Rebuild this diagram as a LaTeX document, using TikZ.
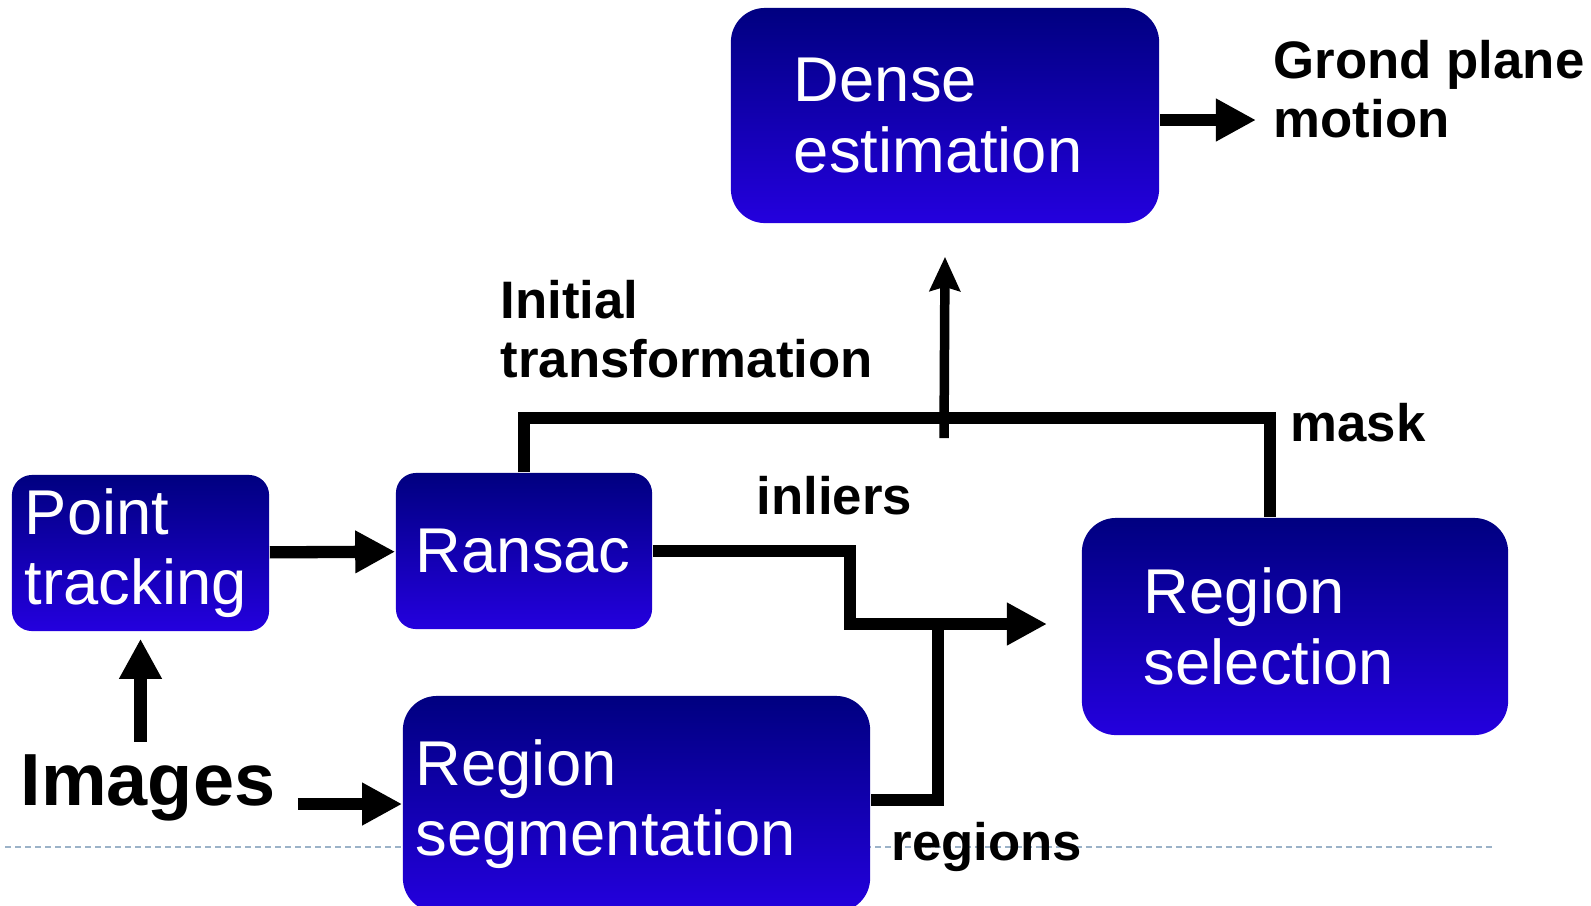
\documentclass[tikz,border=0pt]{standalone}
\usepackage{fontspec}
\setmainfont{Liberation Sans}
\usetikzlibrary{arrows.meta, positioning}
\definecolor{boxtop}{RGB}{0, 0, 128}
\definecolor{boxbot}{RGB}{36, 0, 222}
\definecolor{sepline}{RGB}{155, 178, 200}

\begin{document}
\begin{tikzpicture}[
    x=0.01cm, y=-0.01cm,
    block/.style={rounded corners=0.34cm, top color=boxtop, bottom color=boxbot, text=white, align=left, inner ysep=0pt, font=\fontsize{18}{20}\selectfont},
    tag/.style={font=\bfseries\fontsize{15}{16.5}\selectfont, align=left, inner sep=0pt, anchor=base west},
    link/.style={line width=3.5pt},
    arr/.style={link, -{Triangle[length=0.4cm, width=0.4cm]}},
    thinarr/.style={line width=2.7pt, -{Stealth[length=0.34cm, width=0.3cm, inset=0.04cm]}},
]
    \useasboundingbox (0,0) rectangle (1591,905);
    \clip (0,0) rectangle (1591,905);

    % separator line
    \draw[sepline, line width=0.6pt, dash pattern=on 0.06cm off 0.04cm] (5,847) -- (1494,847);

    % Boxes
    \node[block, text width=3.02cm, inner xsep=0.63cm, minimum height=2.15cm] (dense) at (945,115.5) {Dense\\estimation};
    \node[block, rounded corners=0.2cm, text width=2.31cm, inner xsep=0.13cm, minimum height=1.56cm] (point) at (140.5,553) {Point\\tracking};
    \node[block, rounded corners=0.2cm, text width=2.16cm, inner xsep=0.2cm, minimum height=1.56cm] (ransac) at (524,551) {Ransac};
    \node[block, text width=4.41cm, inner xsep=0.13cm, minimum height=2.16cm] (seg) at (636.5,804) {Region\\segmentation};
    \node[block, text width=3.02cm, inner xsep=0.62cm, minimum height=2.17cm] (sel) at (1295,626.5) {Region\\selection};

    % Labels
    \node[tag] (ground) at (1273,137) {Grond plane\\motion};
    \node[tag] (init) at (500,377) {Initial\\transformation};
    \node[tag] (mask) at (1290,441) {mask};
    \node[tag] (inliers) at (756,514) {inliers};
    \node[tag] (regions) at (891,860) {regions};
    \node[tag, font=\bfseries\fontsize{21}{24}\selectfont, inner sep=0.12cm] (images) at (8,805) {Images};

    \coordinate (split) at (944,418);
    \coordinate (merge) at (1047,624);

    % Connectors
    \draw[arr] (images.north -| point.south) -- ([yshift=-0.07cm]point.south);
    \draw[arr] ([xshift=0.1cm]images.east |- 0,804) -- (seg.west);
    \draw[arr] (point) -- (ransac);
    \draw[arr] (ransac.east) -| (850,624) -- (merge);
    \draw[link] (seg.east |- 0,800) -| (938,624);
    \draw[link] (ransac.north) |- (split) -| ([xshift=-0.25cm]sel.north);
    \draw[thinarr] ([yshift=-0.2cm]split) -- ([yshift=-0.33cm]dense.south);
    \draw[arr, shorten >=0.17cm] ([yshift=-0.045cm]dense.east) -- ([yshift=-0.045cm]dense.east -| ground.west);
\end{tikzpicture}
\end{document}
